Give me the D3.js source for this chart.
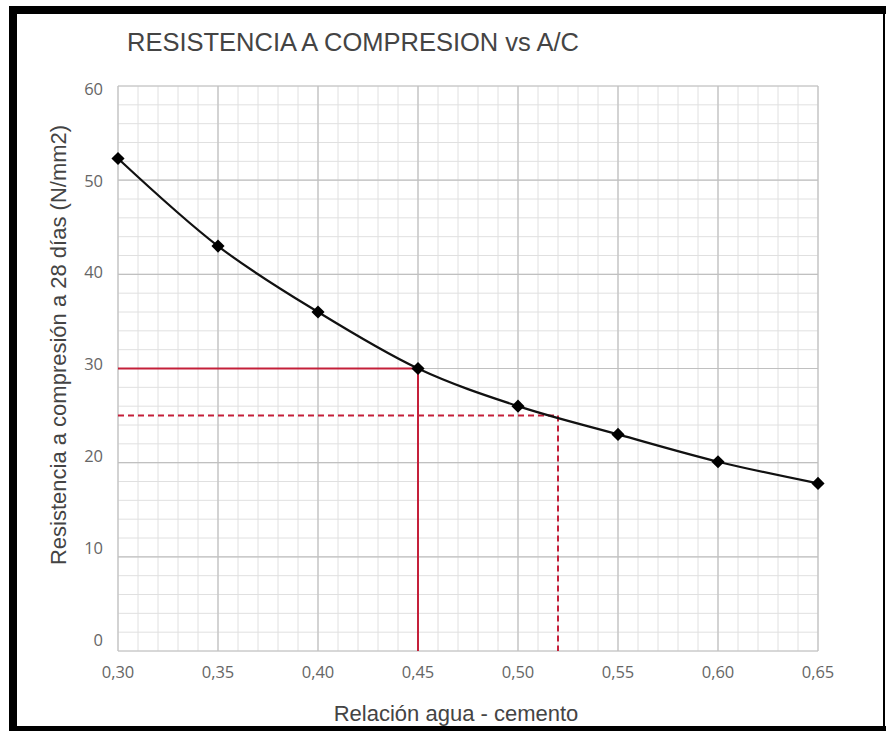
<!DOCTYPE html>
<html>
<head>
<meta charset="utf-8">
<script src="https://cdn.jsdelivr.net/npm/d3@7"></script>
<style>
  html, body { margin: 0; padding: 0; background: #fff; }
  svg { display: block; }
</style>
</head>
<body>
<svg id="chart" width="886" height="731"></svg>
<script>
// relación agua/cemento y resistencia
const ratios = [0.30, 0.35, 0.40, 0.45, 0.50, 0.55, 0.60, 0.65];
const strengths = [52.3, 43.0, 36.0, 30.0, 26.0, 23.0, 20.1, 17.8];
const xTicks = [0.30, 0.35, 0.40, 0.45, 0.50, 0.55, 0.60, 0.65];
const yTicks = [0, 10, 20, 30, 40, 50, 60];
// líneas guía rojas: [a/c, resistencia, discontinua]
const guides = [[0.45, 30, false], [0.52, 25, true]];

const svg = d3.select("#chart");
const red = "#c4203a";

// marco negro
svg.append("rect").attr("x", 9).attr("y", 6).attr("width", 877).attr("height", 8).attr("fill", "#000");
svg.append("rect").attr("x", 9).attr("y", 6).attr("width", 8).attr("height", 725).attr("fill", "#000");
svg.append("rect").attr("x", 9).attr("y", 726).attr("width", 877).attr("height", 5).attr("fill", "#000");
svg.append("rect").attr("x", 883).attr("y", 6).attr("width", 2).attr("height", 725).attr("fill", "#000");

const x = d3.scaleLinear().domain([0.30, 0.65]).range([118, 818]);
const y = d3.scaleLinear().domain([0, 60]).range([651, 86]);
// las etiquetas del eje Y no están exactamente sobre las líneas
const yLabel = d3.scaleLinear().domain([0, 60]).range([640, 89]);

const g = svg.append("g");

// cuadrícula menor
g.selectAll(".vminor")
  .data(d3.range(0, 36).map(i => 0.30 + i * 0.01))
  .join("line")
  .attr("x1", d => x(d)).attr("x2", d => x(d))
  .attr("y1", y(60)).attr("y2", y(0))
  .attr("stroke", "#e0e0e0").attr("stroke-width", 1);

g.selectAll(".hminor")
  .data(d3.range(0, 31).map(i => i * 2))
  .join("line")
  .attr("x1", x(0.30)).attr("x2", x(0.65))
  .attr("y1", d => y(d)).attr("y2", d => y(d))
  .attr("stroke", "#e0e0e0").attr("stroke-width", 1);

// cuadrícula mayor
g.selectAll(".vmajor")
  .data(xTicks)
  .join("line")
  .attr("x1", d => x(d)).attr("x2", d => x(d))
  .attr("y1", y(60)).attr("y2", y(0))
  .attr("stroke", "#c0c0c0").attr("stroke-width", 1.2);

g.selectAll(".hmajor")
  .data(yTicks)
  .join("line")
  .attr("x1", x(0.30)).attr("x2", x(0.65))
  .attr("y1", d => y(d)).attr("y2", d => y(d))
  .attr("stroke", "#c0c0c0").attr("stroke-width", 1.2);

// líneas guía
guides.forEach(([gx, gy, dashed]) => {
  const dash = dashed ? "6,4" : null;
  g.append("line")
    .attr("x1", x(0.30)).attr("x2", x(gx))
    .attr("y1", y(gy)).attr("y2", y(gy))
    .attr("stroke", red).attr("stroke-width", 2).attr("stroke-dasharray", dash);
  g.append("line")
    .attr("x1", x(gx)).attr("x2", x(gx))
    .attr("y1", y(gy)).attr("y2", y(0))
    .attr("stroke", red).attr("stroke-width", 2).attr("stroke-dasharray", dash);
});

// curva
const points = ratios.map((r, i) => [r, strengths[i]]);
const line = d3.line()
  .x(d => x(d[0]))
  .y(d => y(d[1]))
  .curve(d3.curveMonotoneX);

g.append("path")
  .datum(points)
  .attr("d", line)
  .attr("fill", "none")
  .attr("stroke", "#111")
  .attr("stroke-width", 2.2);

g.selectAll(".pt")
  .data(points)
  .join("path")
  .attr("d", d3.symbol().type(d3.symbolDiamond2).size(110))
  .attr("transform", d => `translate(${x(d[0])},${y(d[1])})`)
  .attr("fill", "#000");

// etiquetas de ejes
g.selectAll(".xl")
  .data(xTicks)
  .join("text")
  .attr("x", d => x(d))
  .attr("y", 672)
  .attr("dy", "0.35em")
  .attr("text-anchor", "middle")
  .attr("font-family", "'Open Sans', sans-serif")
  .attr("font-size", 16.5)
  .attr("fill", "#666")
  .text(d => d3.format(".2f")(d).replace(".", ","));

g.selectAll(".yl")
  .data(yTicks)
  .join("text")
  .attr("x", 103)
  .attr("y", d => yLabel(d))
  .attr("dy", "0.35em")
  .attr("text-anchor", "end")
  .attr("font-family", "'Open Sans', sans-serif")
  .attr("font-size", 16.5)
  .attr("fill", "#666")
  .text(d => d);

svg.append("text")
  .attr("x", 127)
  .attr("y", 51)
  .attr("font-family", "'Liberation Sans', Arial, sans-serif")
  .attr("font-size", 25.5)
  .attr("fill", "#444")
  .text("RESISTENCIA A COMPRESION vs A/C");

svg.append("text")
  .attr("x", 456)
  .attr("y", 713)
  .attr("dy", "0.35em")
  .attr("text-anchor", "middle")
  .attr("font-family", "'Liberation Sans', Arial, sans-serif")
  .attr("font-size", 22)
  .attr("fill", "#444")
  .text("Relación agua - cemento");

svg.append("text")
  .attr("transform", "translate(58,345) rotate(-90)")
  .attr("dy", "0.35em")
  .attr("text-anchor", "middle")
  .attr("font-family", "'Liberation Sans', Arial, sans-serif")
  .attr("font-size", 22)
  .attr("fill", "#444")
  .text("Resistencia a compresión a 28 días (N/mm2)");
</script>
</body>
</html>
